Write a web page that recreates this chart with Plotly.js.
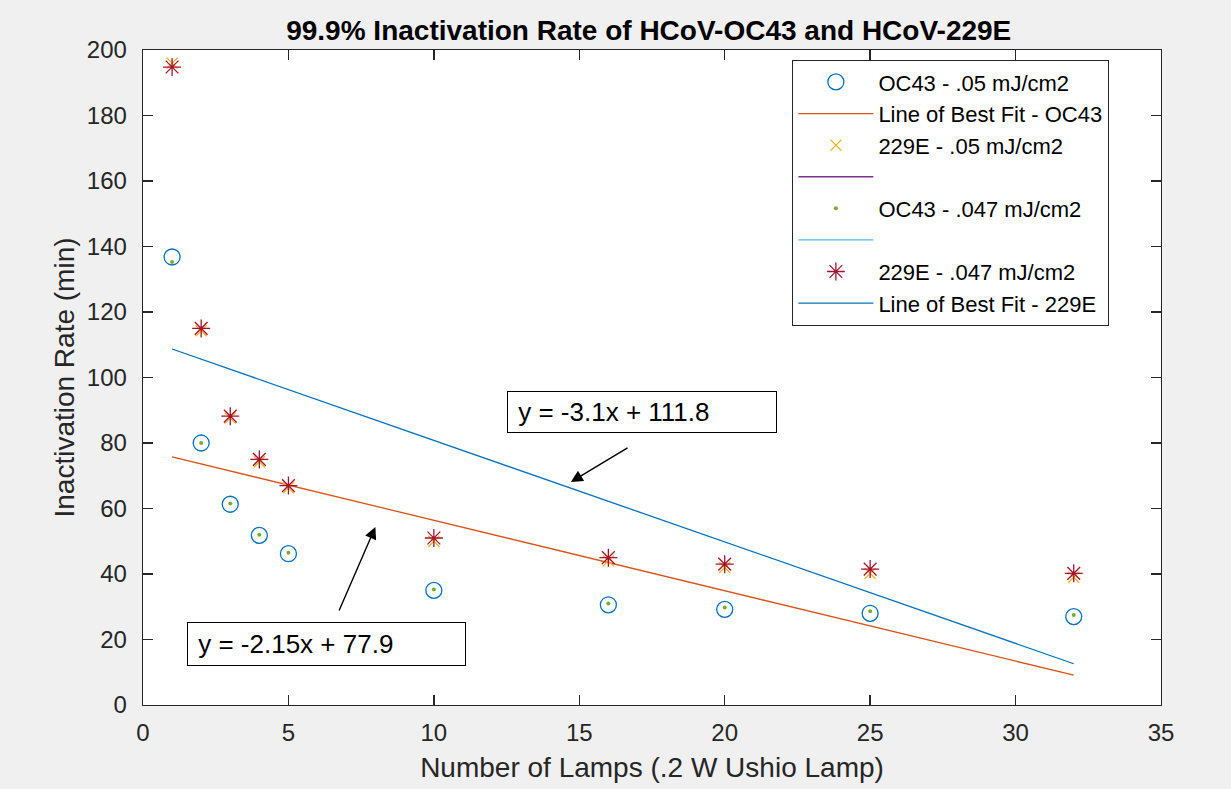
<!DOCTYPE html>
<html>
<head>
<meta charset="utf-8">
<script src="https://cdn.plot.ly/plotly-3.0.1.min.js"></script>
<style>html,body{margin:0;padding:0;background:#f0f0f0;}#chart{width:1231px;height:789px;}</style>
</head>
<body>
<div id="chart"></div>
<script>
// ---- data ----
const lamps = [1, 2, 3, 4, 5, 10, 16, 20, 25, 32];
const oc43_05  = [136.8, 80.0, 61.3, 51.8, 46.2, 35.0, 30.6, 29.2, 28.0, 27.0];
const e229_05  = [196.0, 114.3, 87.6, 74.3, 66.3, 50.0, 44.0, 42.0, 40.2, 39.0];
const oc43_047 = [135.3, 80.0, 61.5, 52.0, 46.5, 35.3, 31.0, 29.8, 28.6, 27.5];
const e229_047 = [194.8, 115.0, 88.2, 75.0, 67.0, 51.0, 45.0, 43.0, 41.5, 40.2];
const fitX     = [1, 32];
const fitOC43  = [75.75, 9.1];
const fit229E  = [108.7, 12.6];
const seriesNames = ["OC43 - .05 mJ/cm2", "Line of Best Fit - OC43", "229E - .05 mJ/cm2", " ",
                     "OC43 - .047 mJ/cm2", " ", "229E - .047 mJ/cm2", "Line of Best Fit - 229E"];
const eqLabels = ["y = -3.1x + 111.8", "y = -2.15x + 77.9"];
const xTicks = [0, 5, 10, 15, 20, 25, 30, 35];
const yTicks = [0, 20, 40, 60, 80, 100, 120, 140, 160, 180, 200];

const FONT = "Liberation Sans, Arial, Helvetica, sans-serif";
const traces = [
  {x: lamps, y: oc43_05, name: seriesNames[0], mode: "markers", type: "scatter",
   marker: {symbol: "circle-open", size: 16, color: "#0072BD", line: {width: 1.3}}},
  {x: fitX, y: fitOC43, name: seriesNames[1], mode: "lines", type: "scatter",
   line: {color: "#D95319", width: 1.3}},
  {x: lamps, y: e229_05, name: seriesNames[2], mode: "markers", type: "scatter",
   marker: {symbol: "x-thin-open", size: 11, color: "#EDB120", line: {width: 1.3, color: "#EDB120"}}},
  {x: [null], y: [null], name: seriesNames[3], mode: "lines", type: "scatter",
   line: {color: "#7E2F8E", width: 1.3}},
  {x: lamps, y: oc43_047, name: seriesNames[4], mode: "markers", type: "scatter",
   marker: {symbol: "circle", size: 4, color: "#77AC30"}},
  {x: [null], y: [null], name: seriesNames[5], mode: "lines", type: "scatter",
   line: {color: "#4DBEEE", width: 1.3}},
  {x: lamps, y: e229_047, name: seriesNames[6], mode: "markers", type: "scatter",
   marker: {symbol: "asterisk-open", size: 15, color: "#A2142F", line: {width: 1.3, color: "#A2142F"}}},
  {x: fitX, y: fit229E, name: seriesNames[7], mode: "lines", type: "scatter",
   line: {color: "#0072BD", width: 1.3}}
];

const axisCommon = {
  showgrid: false, zeroline: false, showline: true, linecolor: "#262626", linewidth: 1.3,
  mirror: "ticks", ticks: "inside", ticklen: 10, tickcolor: "#262626", tickwidth: 1.3,
  tickfont: {family: FONT, size: 24, color: "#262626"}
};

const layout = {
  width: 1231, height: 789,
  paper_bgcolor: "#f0f0f0", plot_bgcolor: "#ffffff",
  margin: {l: 143, r: 70, t: 50, b: 84},
  font: {family: FONT, color: "#262626"},
  title: {text: "<b>99.9% Inactivation Rate of HCoV-OC43 and HCoV-229E</b>",
          font: {family: FONT, size: 28, color: "#000"}, x: 0.527, xanchor: "center", y: 0.962, yanchor: "middle"},
  xaxis: Object.assign({}, axisCommon, {range: [0, 35], tickvals: xTicks, ticklabelstandoff: 6,
          title: {text: "Number of Lamps (.2 W Ushio Lamp)", font: {family: FONT, size: 28, color: "#262626"}, standoff: 12}}),
  yaxis: Object.assign({}, axisCommon, {range: [0, 200], tickvals: yTicks, ticklabelstandoff: 10,
          title: {text: "Inactivation Rate (min)", font: {family: FONT, size: 28, color: "#262626"}, standoff: 4}}),
  showlegend: true,
  legend: {x: 0.949, xanchor: "right", y: 0.985, yanchor: "top",
           bgcolor: "#ffffff", bordercolor: "#262626", borderwidth: 1.3,
           font: {family: FONT, size: 22, color: "#000"}, itemwidth: 75, tracegroupgap: 0},
  annotations: [
    {x: 17.15, y: 89.47, xref: "x", yref: "y", text: "&nbsp;" + eqLabels[0], showarrow: false,
     font: {family: FONT, size: 26, color: "#000"}, bgcolor: "#ffffff", bordercolor: "#000", borderwidth: 1,
     width: 262, height: 34, align: "left", borderpad: 3},
    {x: 6.31, y: 18.63, xref: "x", yref: "y", text: "&nbsp;" + eqLabels[1], showarrow: false,
     font: {family: FONT, size: 26, color: "#000"}, bgcolor: "#ffffff", bordercolor: "#000", borderwidth: 1,
     width: 271, height: 36, align: "left", borderpad: 3},
    {x: 14.71, y: 68.1, ax: 16.71, ay: 78.8, xref: "x", yref: "y", axref: "x", ayref: "y",
     text: "", showarrow: true, arrowhead: 2, arrowsize: 1.7, arrowwidth: 1.4, arrowcolor: "#000"},
    {x: 7.99, y: 54.35, ax: 6.72, ay: 28.4, xref: "x", yref: "y", axref: "x", ayref: "y",
     text: "", showarrow: true, arrowhead: 2, arrowsize: 1.7, arrowwidth: 1.4, arrowcolor: "#000"}
  ]
};

Plotly.newPlot("chart", traces, layout, {displayModeBar: false, staticPlot: true});
</script>
</body>
</html>
